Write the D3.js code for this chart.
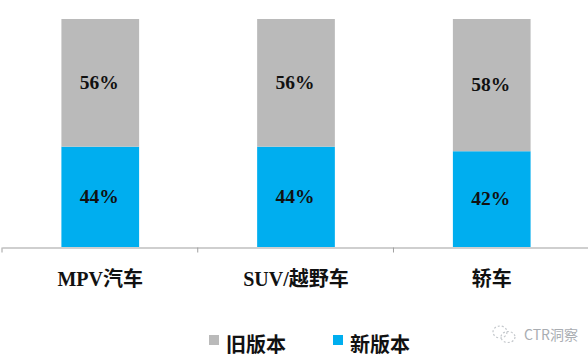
<!DOCTYPE html>
<html>
<head>
<meta charset="utf-8">
<script src="https://cdn.jsdelivr.net/npm/d3@7"></script>
<style>
html, body { margin: 0; padding: 0; background: #fff; }
svg { display: block; }
text { font-family: "Liberation Serif", "Noto Sans CJK SC", serif; font-weight: bold; fill: #111; }
</style>
</head>
<body>
<svg id="chart"></svg>
<script>
const categories = ["MPV汽车", "SUV/越野车", "轿车"];
const newVersion = [44, 44, 42];
const oldVersion = [56, 56, 58];
const seriesNames = ["新版本", "旧版本"];
const legendOrder = ["旧版本", "新版本"];

const width = 588, height = 357;
const colors = { "新版本": "#00aeef", "旧版本": "#bababa" };

const svg = d3.select("#chart")
  .attr("width", width)
  .attr("height", height);

const rows = categories.map((c, i) => ({
  category: c,
  "新版本": newVersion[i],
  "旧版本": oldVersion[i]
}));

const stacked = d3.stack().keys(seriesNames)(rows);

const x = d3.scaleBand()
  .domain(categories)
  .range([2, 590])
  .paddingInner(0.603)
  .paddingOuter(0.3035);

const y = d3.scaleLinear()
  .domain([0, 100])
  .range([247, 19]);

// bars
svg.append("g").selectAll("g")
  .data(stacked)
  .join("g")
  .attr("fill", d => colors[d.key])
  .selectAll("rect")
  .data(d => d)
  .join("rect")
  .attr("x", d => x(d.data.category))
  .attr("y", d => y(d[1]))
  .attr("width", x.bandwidth())
  .attr("height", d => y(d[0]) - y(d[1]));

// value labels
svg.append("g").selectAll("g")
  .data(stacked)
  .join("g")
  .selectAll("text")
  .data(d => d)
  .join("text")
  .attr("x", d => x(d.data.category) + x.bandwidth() / 2 - 1)
  .attr("y", d => (y(d[0]) + y(d[1])) / 2 - 1)
  .attr("dy", "0.35em")
  .attr("text-anchor", "middle")
  .attr("font-size", 19.5)
  .text(d => (d[1] - d[0]) + "%");

// axis, ticks sit between the categories
const axis = svg.append("g")
  .attr("transform", "translate(0,247.5)")
  .call(d3.axisBottom(x).tickSize(0).tickPadding(24));

axis.select(".domain").attr("stroke", "#a0a0a0").attr("stroke-width", 1.2);
axis.selectAll("text")
  .attr("font-size", 20)
  .style("font-family", '"Liberation Serif", "Noto Sans CJK SC", serif')
  .style("font-weight", "bold")
  .attr("fill", "#111");

const step = x.step();
axis.append("g").selectAll("line")
  .data(d3.range(categories.length + 1))
  .join("line")
  .attr("x1", i => 2 + i * step)
  .attr("x2", i => 2 + i * step)
  .attr("y1", 0)
  .attr("y2", 5)
  .attr("stroke", "#a0a0a0");

// legend
const legendX = d3.scalePoint().domain(legendOrder).range([209, 333]);
const legend = svg.append("g").selectAll("g")
  .data(legendOrder)
  .join("g")
  .attr("transform", d => `translate(${legendX(d)},335)`);

legend.append("rect")
  .attr("width", 10)
  .attr("height", 10)
  .attr("fill", d => colors[d]);

legend.append("text")
  .attr("x", 17)
  .attr("y", 10)
  .attr("dy", "0.35em")
  .attr("font-size", 20)
  .text(d => d);

// watermark
const mark = svg.append("g").attr("transform", "translate(504,335)")
  .attr("fill", "none")
  .attr("stroke", "#c4c8cc")
  .attr("stroke-width", 1.2)
  .attr("stroke-dasharray", "2 2");
mark.append("ellipse").attr("cx", -4).attr("cy", -3).attr("rx", 7).attr("ry", 6);
mark.append("ellipse").attr("cx", 4).attr("cy", 2).attr("rx", 7).attr("ry", 5.5);

svg.append("text")
  .attr("x", 524)
  .attr("y", 335)
  .attr("dy", "0.35em")
  .attr("font-size", 14)
  .style("font-family", '"Noto Sans CJK SC", "Noto Sans", sans-serif')
  .style("font-weight", "normal")
  .style("fill", "#a9adb2")
  .text("CTR洞察");
</script>
</body>
</html>
